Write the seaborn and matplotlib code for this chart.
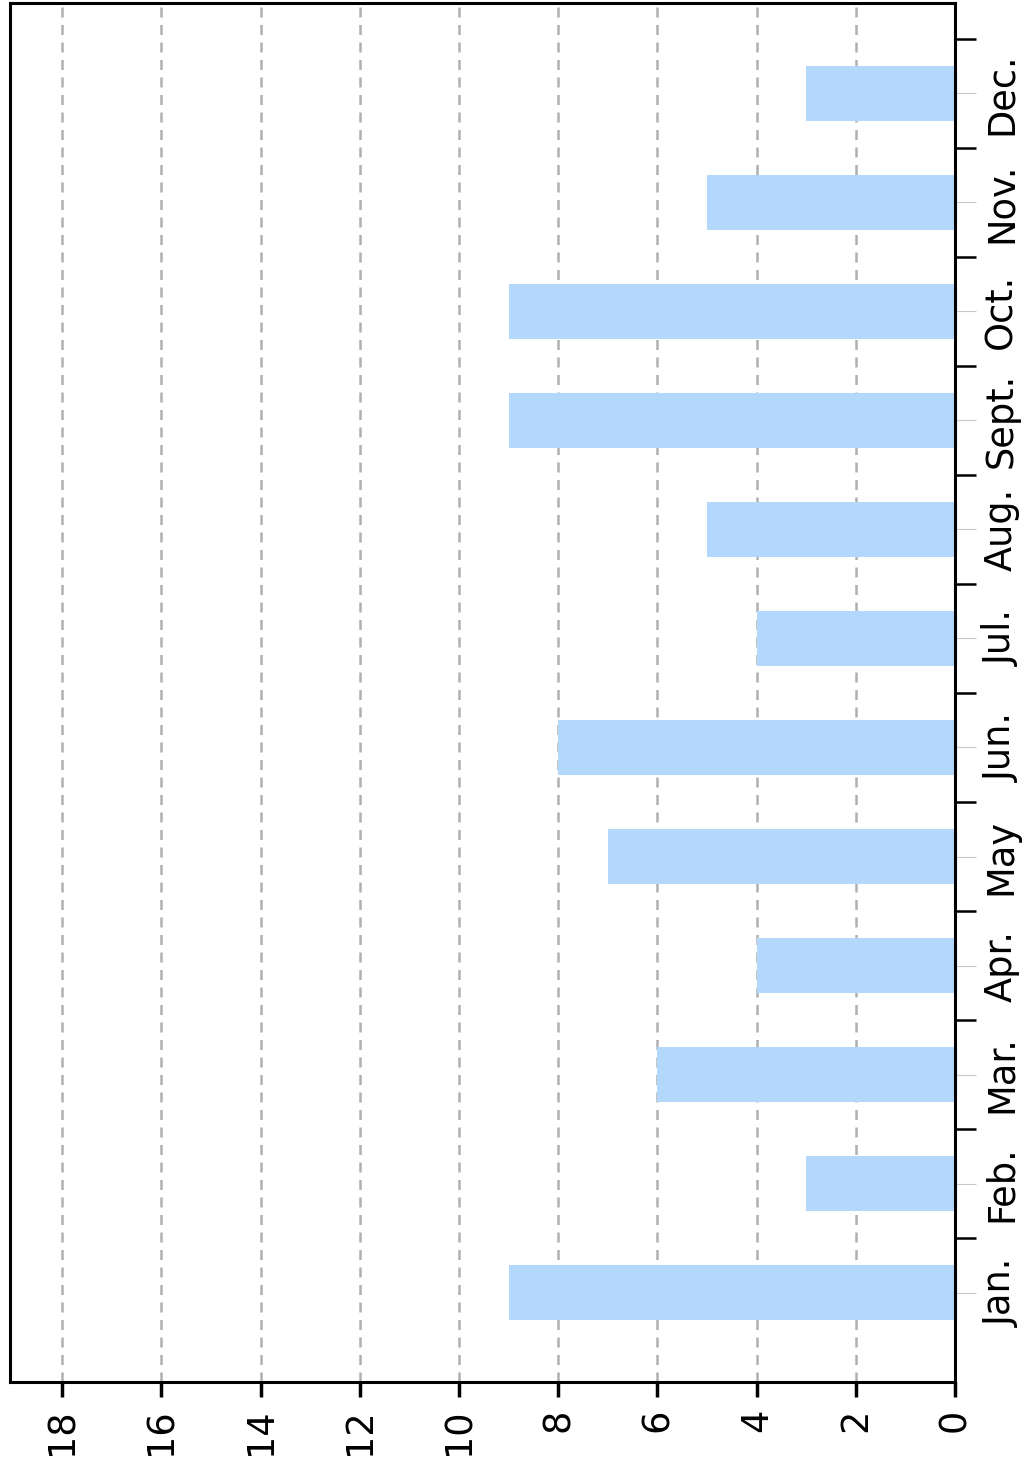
import seaborn as sns
import matplotlib.pyplot as plt
import pandas as pd
import numpy as np

months = ['Jan.', 'Feb.', 'Mar.', 'Apr.', 'May', 'Jun.', 'Jul.', 'Aug.', 'Sept.', 'Oct.', 'Nov.', 'Dec.']
counts = [9, 3, 6, 4, 7, 8, 4, 5, 9, 9, 5, 3]
value_ticks = [0, 2, 4, 6, 8, 10, 12, 14, 16, 18]

df = pd.DataFrame({'month': months, 'count': counts})

sns.set_style('white')
plt.rcParams['font.family'] = ['DejaVu Sans']

fig = plt.figure(figsize=(10.26, 14.61), dpi=100)
ax = fig.add_axes([0.00975, 0.0541, 0.9210, 0.9439])

sns.barplot(data=df, y='month', x='count', orient='h', order=months,
            color='#b3d8fc', saturation=1, width=0.5, linewidth=0, ax=ax, zorder=2)

# chart is drawn "lying down": zero on the right, Jan. at the bottom
ax.set_xlim(19.05, 0)
ax.set_ylim(-0.82, 11.83)

ax.set_xticks(value_ticks)
ax.set_xticklabels([str(v) for v in value_ticks], rotation=90, fontsize=26.5, color='black')
ax.xaxis.grid(True, linestyle=(0, (4, 3)), color='#b0b0b0', linewidth=1.8, zorder=0)

ax.yaxis.tick_right()
ax.set_yticks(np.arange(len(months)) + 0.5)
ax.set_yticklabels([])
ax.set_yticks(np.arange(len(months)), minor=True)
ax.set_yticklabels(months, minor=True, rotation=90, fontsize=26.5, va='center', color='black')
ax.tick_params(axis='y', which='major', length=15, width=1.8, color='black', right=True)
ax.tick_params(axis='y', which='minor', length=15, width=0.8, color='#c8c8c8', right=True, pad=5)
ax.tick_params(axis='x', which='major', length=11, width=2.5, color='black', bottom=True, pad=8)

ax.set_xlabel('')
ax.set_ylabel('')
for s in ax.spines.values():
    s.set_visible(True)
    s.set_color('black')
    s.set_linewidth(2.2)

fig.savefig('out.png', dpi=100)
